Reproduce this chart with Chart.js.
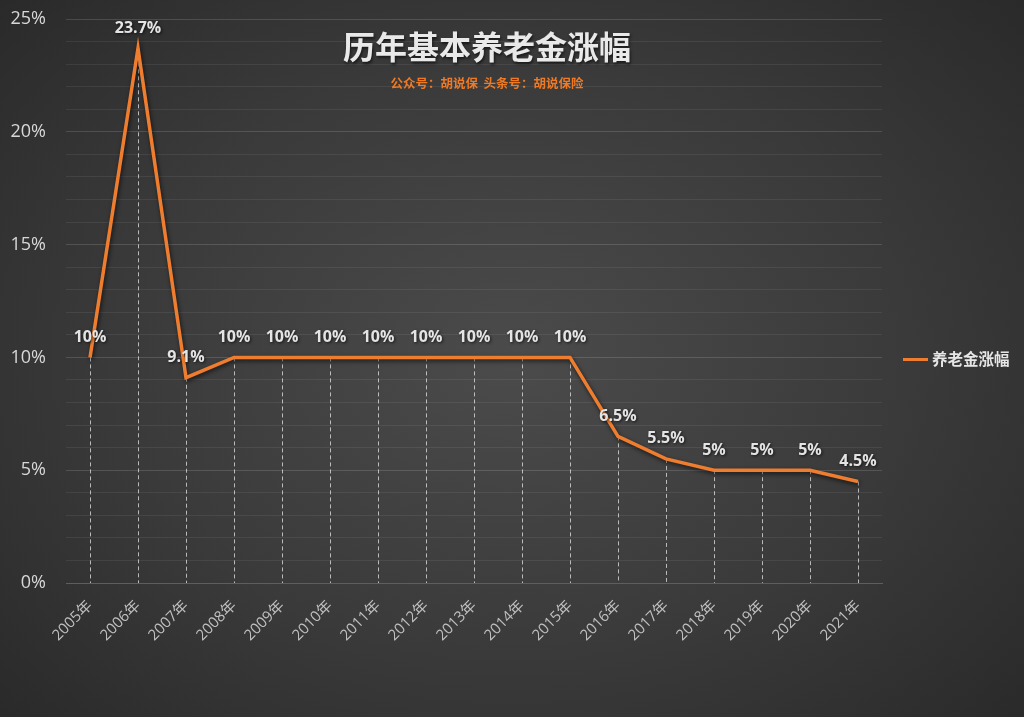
<!DOCTYPE html>
<html>
<head>
<meta charset="utf-8">
<script src="https://cdn.jsdelivr.net/npm/chart.js@4"></script>
<style>
  html, body { margin:0; padding:0; width:1024px; height:717px; overflow:hidden; }
  body { background: radial-gradient(ellipse 70% 75% at 50% 50%, #4b4b4b 0%, #3a3a3a 55%, #292929 100%); position:relative; font-family:'Noto Sans CJK SC', sans-serif; }
  #wrap { position:absolute; left:0; top:0; width:1024px; height:717px; }
  .title { position:absolute; left:487px; top:25px; transform:translateX(-50%); white-space:nowrap;
           font-size:32px; font-weight:bold; color:#e9e9e9; text-shadow:1px 2px 3px rgba(0,0,0,0.6); line-height:40px; }
  .sub { position:absolute; left:487px; top:74px; transform:translateX(-50%); white-space:nowrap;
         font-size:12.5px; font-weight:bold; color:#f07a24; line-height:18px; }
  .legend { position:absolute; left:903px; top:347px; white-space:nowrap; font-size:15.5px; font-weight:bold; color:#e6e6e6; line-height:22px; }
  .legend i { display:inline-block; width:25px; height:3px; background:#ee7d2f; vertical-align:middle; margin-right:4px; position:relative; top:-1px; }
</style>
</head>
<body>
<div id="wrap"><canvas id="line-chart-pension" width="1024" height="717"></canvas></div>
<div class="title">历年基本养老金涨幅</div>
<div class="sub">公众号：胡说保&nbsp; 头条号：胡说保险</div>
<div class="legend"><i></i>养老金涨幅</div>
<script>
// 数据
var years = ["2005年","2006年","2007年","2008年","2009年","2010年","2011年","2012年","2013年","2014年","2015年","2016年","2017年","2018年","2019年","2020年","2021年"];
var rates = [10, 23.7, 9.1, 10, 10, 10, 10, 10, 10, 10, 10, 6.5, 5.5, 5, 5, 5, 4.5];
var rateLabels = ["10%","23.7%","9.1%","10%","10%","10%","10%","10%","10%","10%","10%","6.5%","5.5%","5%","5%","5%","4.5%"];
var yTicks = [0, 5, 10, 15, 20, 25];

var orange = '#ee7d2f';

// 垂直虚线 + 数据标签
var dropLines = {
  id: 'dropLines',
  beforeDatasetsDraw: function(chart) {
    var ctx = chart.ctx;
    var meta = chart.getDatasetMeta(0);
    var bottom = chart.scales.y.getPixelForValue(0);
    ctx.save();
    ctx.strokeStyle = 'rgba(230,230,230,0.75)';
    ctx.lineWidth = 1;
    ctx.setLineDash([4, 3]);
    meta.data.forEach(function(pt) {
      ctx.beginPath();
      ctx.moveTo(Math.round(pt.x) + 0.5, pt.y);
      ctx.lineTo(Math.round(pt.x) + 0.5, bottom);
      ctx.stroke();
    });
    ctx.restore();
  },
  beforeDatasetDraw: function(chart) {
    var ctx = chart.ctx;
    ctx.save();
    ctx.shadowColor = 'rgba(0,0,0,0.65)';
    ctx.shadowBlur = 4;
    ctx.shadowOffsetX = 1;
    ctx.shadowOffsetY = 2;
  },
  afterDatasetDraw: function(chart) {
    chart.ctx.restore();
  },
  afterDatasetsDraw: function(chart) {
    var ctx = chart.ctx;
    var meta = chart.getDatasetMeta(0);
    ctx.save();
    ctx.font = 'bold 16px "Open Sans", "Noto Sans CJK SC", sans-serif';
    ctx.textAlign = 'center';
    ctx.textBaseline = 'middle';
    ctx.fillStyle = '#e4e4e4';
    ctx.shadowColor = 'rgba(0,0,0,0.7)';
    ctx.shadowBlur = 3;
    ctx.shadowOffsetX = 1;
    ctx.shadowOffsetY = 1;
    meta.data.forEach(function(pt, i) {
      ctx.fillText(rateLabels[i], pt.x, pt.y - 20);
    });
    ctx.restore();
  }
};

new Chart(document.getElementById('line-chart-pension'), {
  type: 'line',
  data: {
    labels: years,
    datasets: [{
      label: '养老金涨幅',
      data: rates,
      borderColor: orange,
      borderWidth: 3.5,
      lineTension: 0,
      pointRadius: 0,
      fill: false
    }]
  },
  options: {
    responsive: false,
    animation: false,
    layout: { padding: { top: 19, right: 142, left: 0, bottom: 0 } },
    plugins: {
      legend: { display: false },
      tooltip: { enabled: false }
    },
    scales: {
      x: {
        offset: true,
        afterFit: function(s) { s.height = 134; },
        grid: { display: false },
        border: { display: true, color: '#5e5e5e', width: 1 },
        ticks: {
          color: '#c0c0c0',
          font: { family: '"Open Sans", "Noto Sans CJK SC", sans-serif', size: 15 },
          minRotation: 45,
          maxRotation: 45,
          autoSkip: false,
          padding: 6
        }
      },
      y: {
        min: 0,
        max: 25,
        afterFit: function(s) { s.width = 66; },
        afterBuildTicks: function(s) {
          var t = [];
          for (var v = 0; v <= 25; v++) t.push({ value: v });
          s.ticks = t;
        },
        border: { display: false },
        grid: {
          drawTicks: true,
          tickLength: 18,
          tickColor: 'rgba(0,0,0,0)',
          color: function(c) {
            return c.tick.value % 5 === 0 ? 'rgba(255,255,255,0.14)' : 'rgba(255,255,255,0.07)';
          }
        },
        ticks: {
          autoSkip: false,
          padding: 2,
          color: '#d8d8d8',
          font: { family: '"Open Sans", "Noto Sans", sans-serif', size: 18 },
          callback: function(v) { return yTicks.indexOf(v) >= 0 ? v + '%' : ''; }
        }
      }
    }
  },
  plugins: [dropLines]
});
</script>
</body>
</html>
